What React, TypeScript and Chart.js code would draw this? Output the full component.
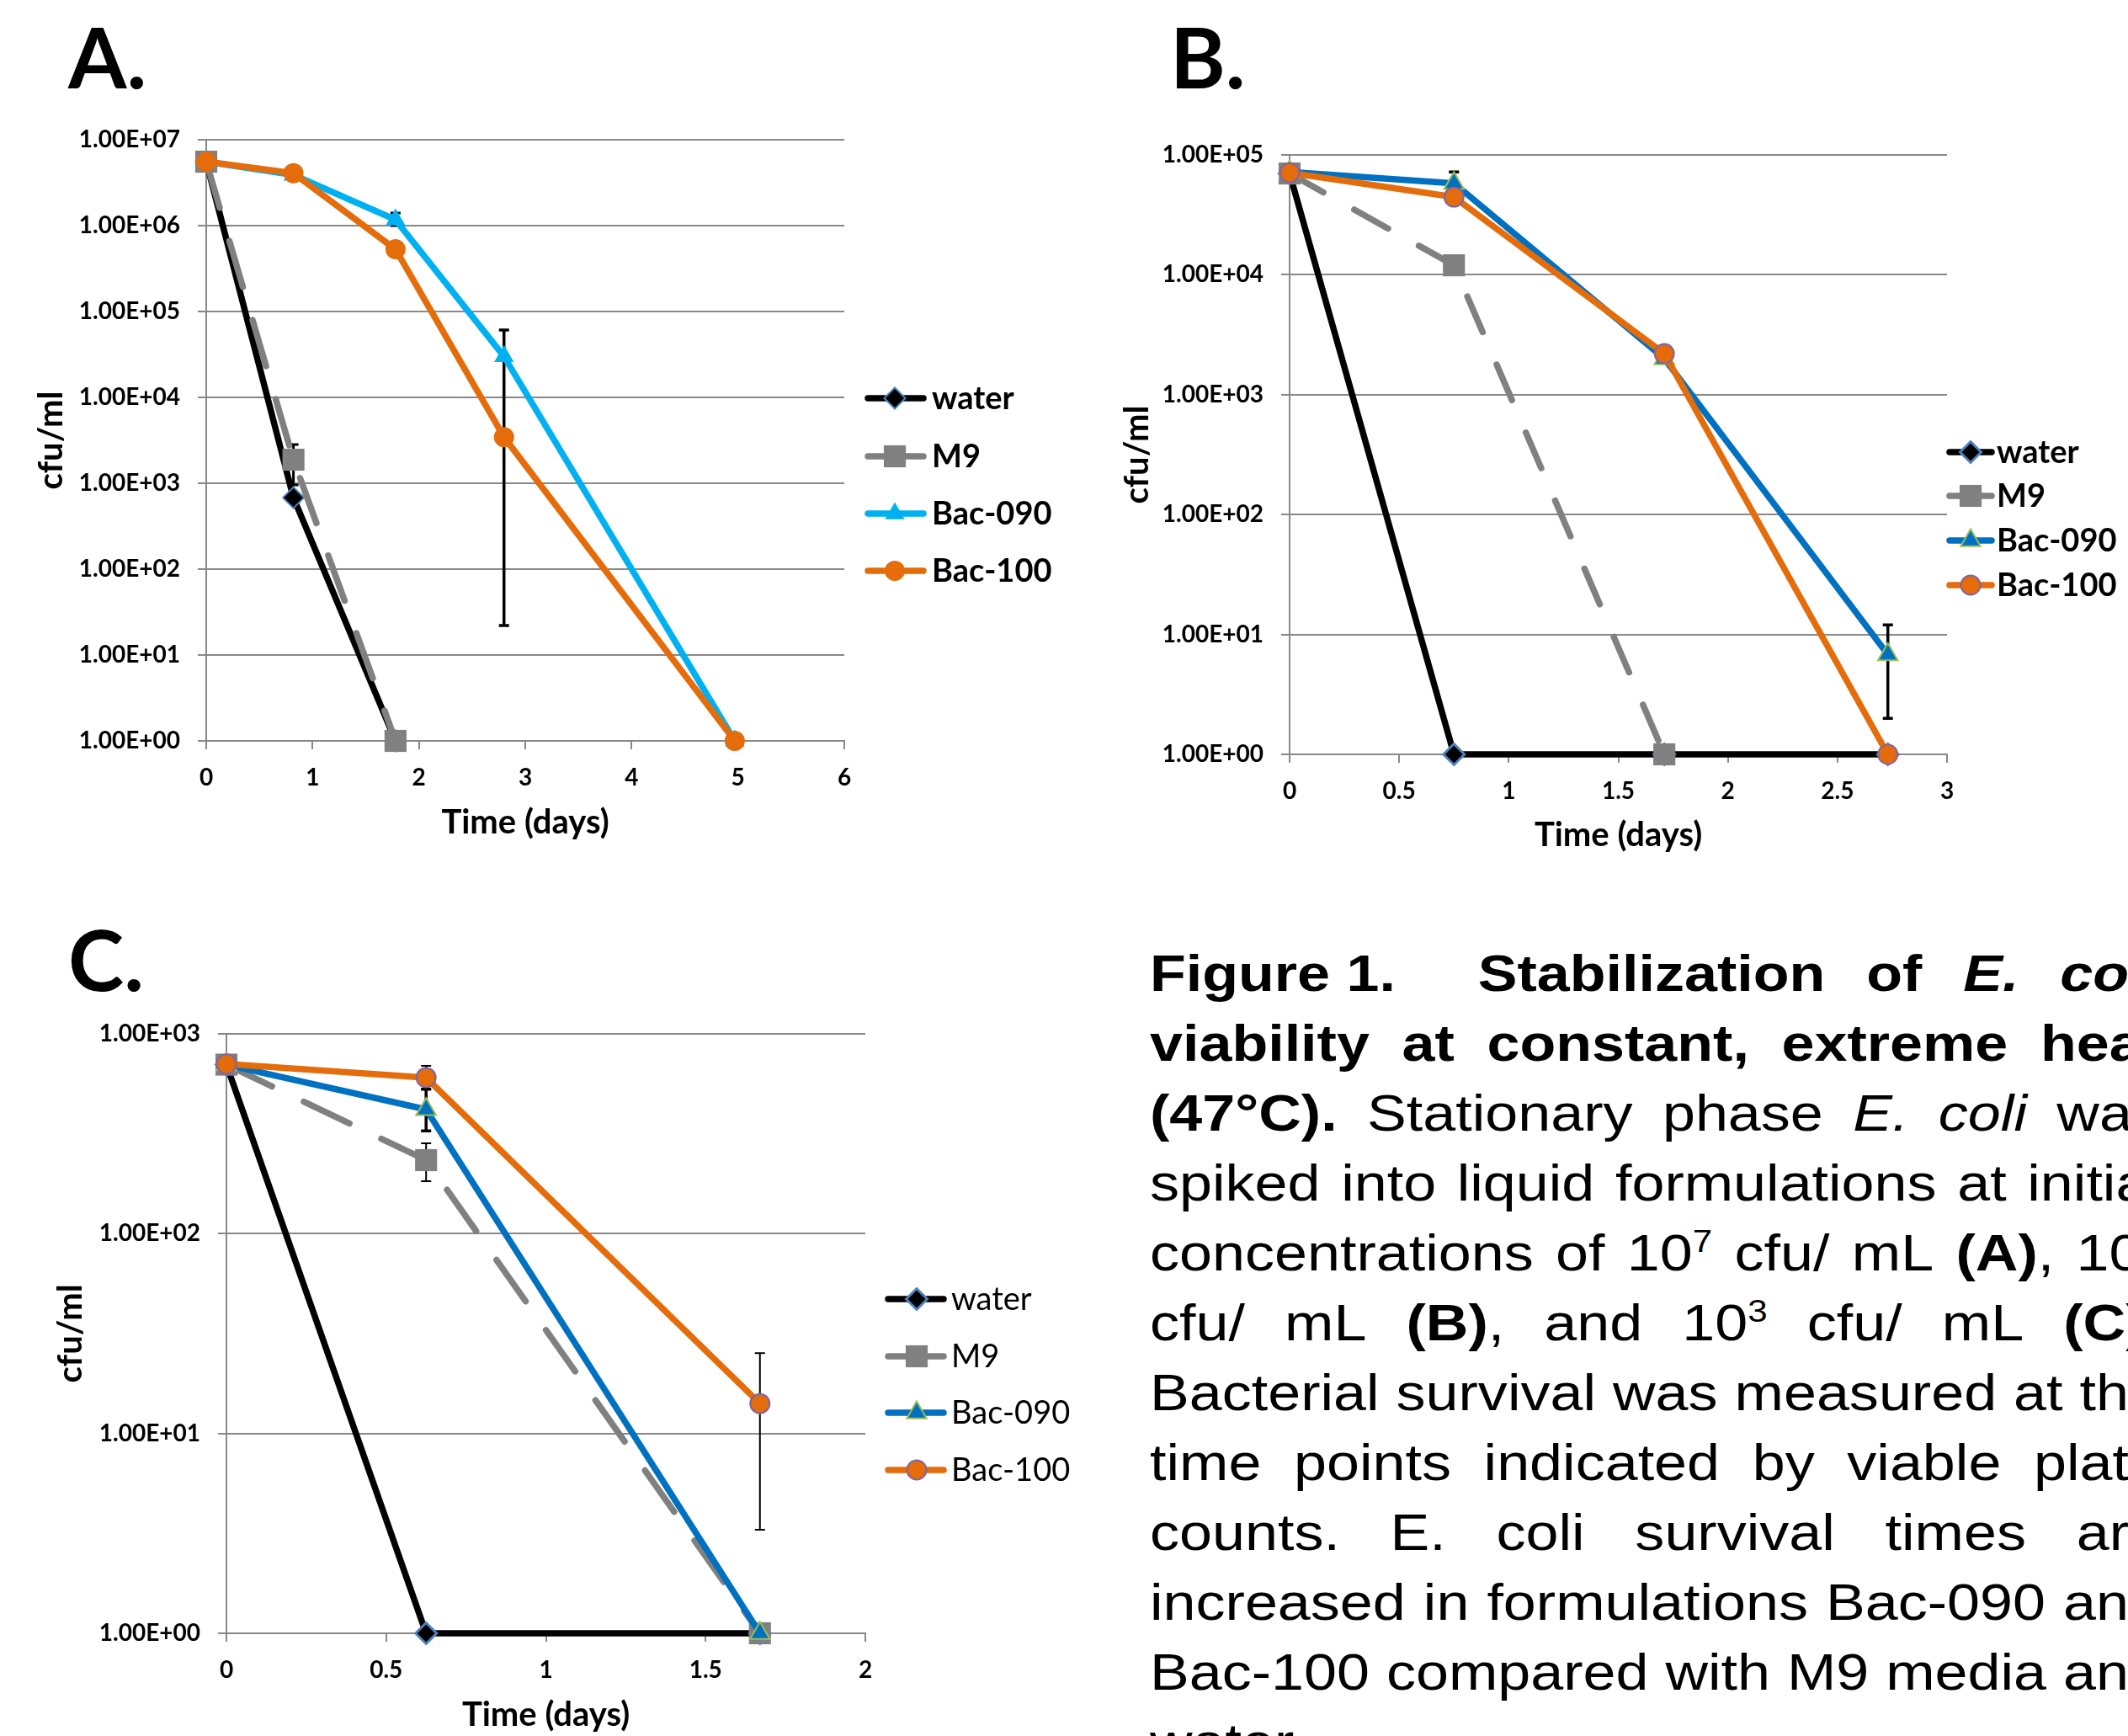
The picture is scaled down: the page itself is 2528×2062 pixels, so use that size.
import React, { useEffect, useRef } from 'react';
import { Chart, registerables } from 'chart.js';

Chart.register(...registerables);

// ---------------- data ----------------
const SERIES_NAMES = ['water', 'M9', 'Bac-090', 'Bac-100'];

// Panel A (10^7 cfu/mL)
const A_X_TICKS = ['0', '1', '2', '3', '4', '5', '6'];
const A_Y_TICKS = ['1.00E+00', '1.00E+01', '1.00E+02', '1.00E+03', '1.00E+04', '1.00E+05', '1.00E+06', '1.00E+07'];
const A_WATER_X = [0, 0.82, 1.78];
const A_WATER_Y = [5.56e6, 680, 1];
const A_M9_X = [0, 0.82, 1.78];
const A_M9_Y = [5.56e6, 1880, 1];
const A_B090_X = [0, 0.82, 1.78, 2.8, 4.97];
const A_B090_Y = [5.56e6, 3.9e6, 1.17e6, 3.0e4, 1];
const A_B100_X = [0, 0.82, 1.78, 2.8, 4.97];
const A_B100_Y = [5.56e6, 4.07e6, 5.3e5, 3.45e3, 1];
const A_ERR_X = [0.82, 1.78, 2.8];
const A_ERR_LOW = [955, 1.0e6, 22];
const A_ERR_HIGH = [2820, 1.4e6, 6.1e4];

// Panel B (10^5 cfu/mL)
const B_X_TICKS = ['0', '0.5', '1', '1.5', '2', '2.5', '3'];
const B_Y_TICKS = ['1.00E+00', '1.00E+01', '1.00E+02', '1.00E+03', '1.00E+04', '1.00E+05'];
const B_WATER_X = [0, 0.75, 1.71, 2.73];
const B_WATER_Y = [7.0e4, 1, 1, 1];
const B_M9_X = [0, 0.75, 1.71];
const B_M9_Y = [7.0e4, 1.2e4, 1];
const B_B090_X = [0, 0.75, 1.71, 2.73];
const B_B090_Y = [7.2e4, 5.8e4, 2.0e3, 6.8];
const B_B100_X = [0, 0.75, 1.71, 2.73];
const B_B100_Y = [7.1e4, 4.45e4, 2.2e3, 1];
const B_ERR_X = [0.75, 2.73];
const B_ERR_LOW = [5.0e4, 2.0];
const B_ERR_HIGH = [7.2e4, 12];

// Panel C (10^3 cfu/mL)
const C_X_TICKS = ['0', '0.5', '1', '1.5', '2'];
const C_Y_TICKS = ['1.00E+00', '1.00E+01', '1.00E+02', '1.00E+03'];
const C_WATER_X = [0, 0.625, 1.67];
const C_WATER_Y = [700, 1, 1];
const C_M9_X = [0, 0.625, 1.67];
const C_M9_Y = [700, 233, 1];
const C_B090_X = [0, 0.625, 1.67];
const C_B090_Y = [700, 418, 1];
const C_B100_X = [0, 0.625, 1.67];
const C_B100_Y = [705, 603, 14.1];
const C_ERR_X = [0.625, 0.625, 0.625, 1.67];
const C_ERR_LOW = [183, 326, 527, 3.3];
const C_ERR_HIGH = [283, 527, 690, 25.2];

// ---------------- styles ----------------
const GRID = '#888888';
const BLACK = '#000000';
const GRAY = '#808080';
const ORANGE = '#E46C0A';
const LIGHTBLUE = '#00B0F0';
const BLUE = '#0070C0';
const DIAMOND_EDGE = '#4F81BD';
const GREEN_EDGE = '#9BBB59';
const PURPLE_EDGE = '#8064A2';

type Style = {
  color: string; width: number; dash?: number[];
  point: string; radius: number; fill: string; border: string; borderWidth: number;
};

type Panel = {
  left: number; top: number; width: number; height: number;
  area: { left: number; top: number; right: number; bottom: number };
  xTicks: string[]; yTicks: string[];
  xs: number[][]; ys: number[][];
  styles: Style[];
  err: { xs: number[]; low: number[]; high: number[]; widths: number[] };
  yTitlePad: number; xTitlePad: number;
  legend: { x0: number; x1: number; mx: number; tx: number; rows: number[]; weight: string };
};

const LW = 7.5;

const STYLES_A: Style[] = [
  { color: BLACK, width: LW, point: 'rectRot', radius: 12.5, fill: BLACK, border: DIAMOND_EDGE, borderWidth: 2 },
  { color: GRAY, width: LW, dash: [57, 41], point: 'rect', radius: 18.5, fill: GRAY, border: GRAY, borderWidth: 0 },
  { color: LIGHTBLUE, width: LW, point: 'triangle', radius: 13.5, fill: LIGHTBLUE, border: LIGHTBLUE, borderWidth: 0 },
  { color: ORANGE, width: LW, point: 'circle', radius: 12, fill: ORANGE, border: ORANGE, borderWidth: 0 },
];
const STYLES_BC = (dash: number[]): Style[] => [
  { color: BLACK, width: LW, point: 'rectRot', radius: 12.5, fill: BLACK, border: DIAMOND_EDGE, borderWidth: 3 },
  { color: GRAY, width: LW, dash, point: 'rect', radius: 18.5, fill: GRAY, border: GRAY, borderWidth: 0 },
  { color: BLUE, width: LW, point: 'triangle', radius: 13.5, fill: BLUE, border: GREEN_EDGE, borderWidth: 2 },
  { color: ORANGE, width: LW, point: 'circle', radius: 11.5, fill: ORANGE, border: PURPLE_EDGE, borderWidth: 2 },
];

const PANEL_A: Panel = {
  left: 0, top: 110, width: 1290, height: 940,
  area: { left: 245, top: 166, right: 1003, bottom: 880 },
  xTicks: A_X_TICKS, yTicks: A_Y_TICKS,
  xs: [A_WATER_X, A_M9_X, A_B090_X, A_B100_X],
  ys: [A_WATER_Y, A_M9_Y, A_B090_Y, A_B100_Y],
  styles: STYLES_A,
  err: { xs: A_ERR_X, low: A_ERR_LOW, high: A_ERR_HIGH, widths: [3, 3, 3.5] },
  yTitlePad: 37, xTitlePad: 49,
  legend: { x0: 1031, x1: 1097, mx: 1063, tx: 1107, rows: [473, 542, 610, 678], weight: 'bold' },
};

const PANEL_B: Panel = {
  left: 1300, top: 110, width: 1228, height: 940,
  area: { left: 1532, top: 184, right: 2313, bottom: 896 },
  xTicks: B_X_TICKS, yTicks: B_Y_TICKS,
  xs: [B_WATER_X, B_M9_X, B_B090_X, B_B100_X],
  ys: [B_WATER_Y, B_M9_Y, B_B090_Y, B_B100_Y],
  styles: STYLES_BC([46, 42]),
  err: { xs: B_ERR_X, low: B_ERR_LOW, high: B_ERR_HIGH, widths: [3.5, 3.5] },
  yTitlePad: 27, xTitlePad: 34,
  legend: { x0: 2316, x1: 2366, mx: 2341, tx: 2372, rows: [537, 589, 642, 695], weight: 'bold' },
};

const PANEL_C: Panel = {
  left: 0, top: 1190, width: 1300, height: 872,
  area: { left: 269, top: 1227, right: 1028, bottom: 1940 },
  xTicks: C_X_TICKS, yTicks: C_Y_TICKS,
  xs: [C_WATER_X, C_M9_X, C_B090_X, C_B100_X],
  ys: [C_WATER_Y, C_M9_Y, C_B090_Y, C_B100_Y],
  styles: STYLES_BC([60, 42]),
  err: { xs: C_ERR_X, low: C_ERR_LOW, high: C_ERR_HIGH, widths: [2, 3.5, 2, 2] },
  yTitlePad: 60, xTitlePad: 1,
  legend: { x0: 1055, x1: 1121, mx: 1089, tx: 1130, rows: [1543, 1611, 1678, 1746], weight: 'normal' },
};

function drawMarker(ctx: CanvasRenderingContext2D, st: Style, x: number, y: number) {
  const r = st.radius;
  ctx.beginPath();
  if (st.point === 'circle') {
    ctx.arc(x, y, r, 0, Math.PI * 2);
  } else if (st.point === 'rect') {
    const h = r * Math.SQRT1_2;
    ctx.rect(x - h, y - h, 2 * h, 2 * h);
  } else if (st.point === 'rectRot') {
    ctx.moveTo(x - r, y); ctx.lineTo(x, y - r); ctx.lineTo(x + r, y); ctx.lineTo(x, y + r); ctx.closePath();
  } else {
    let a = 0;
    ctx.moveTo(x + Math.sin(a) * r, y - Math.cos(a) * r);
    a += (2 * Math.PI) / 3;
    ctx.lineTo(x + Math.sin(a) * r, y - Math.cos(a) * r);
    a += (2 * Math.PI) / 3;
    ctx.lineTo(x + Math.sin(a) * r, y - Math.cos(a) * r);
    ctx.closePath();
  }
  ctx.fillStyle = st.fill;
  ctx.fill();
  if (st.borderWidth > 0) {
    ctx.lineWidth = st.borderWidth;
    ctx.strokeStyle = st.border;
    ctx.stroke();
  }
}

function buildConfig(p: Panel): any {
  const padTop = p.area.top - p.top;
  const padRight = p.left + p.width - p.area.right;
  const padBottom = 0;
  const yWidth = p.area.left - p.left;
  const xHeight = p.top + p.height - padBottom - p.area.bottom;
  const xVals = p.xTicks.map(Number);
  const yVals = p.yTicks.map((t) => parseFloat(t));
  const tickFont = { family: 'Lato', weight: 'bold' as const, size: 28, lineHeight: 1.2 };
  const titleFont = { family: 'Lato', weight: 'bold' as const, size: 40, lineHeight: 1.2 };

  const errPlugin = {
    id: 'errBars',
    beforeDatasetsDraw(chart: any) {
      const xs = chart.scales.x, ys = chart.scales.y, ctx = chart.ctx as CanvasRenderingContext2D;
      p.err.xs.forEach((xv, i) => {
        const px = xs.getPixelForValue(xv);
        const y1 = ys.getPixelForValue(p.err.low[i]);
        const y2 = ys.getPixelForValue(p.err.high[i]);
        const cap = 6;
        ctx.save();
        ctx.strokeStyle = '#000';
        ctx.lineWidth = p.err.widths[i];
        ctx.lineCap = 'butt';
        ctx.beginPath();
        ctx.moveTo(px, y1); ctx.lineTo(px, y2);
        ctx.moveTo(px - cap, y1); ctx.lineTo(px + cap, y1);
        ctx.moveTo(px - cap, y2); ctx.lineTo(px + cap, y2);
        ctx.stroke();
        ctx.restore();
      });
    },
  };

  const legendPlugin = {
    id: 'xlLegend',
    afterDraw(chart: any) {
      const ctx = chart.ctx as CanvasRenderingContext2D;
      SERIES_NAMES.forEach((name, i) => {
        const st = p.styles[i];
        const y = p.legend.rows[i] - p.top;
        ctx.save();
        ctx.strokeStyle = st.color;
        ctx.lineWidth = st.width;
        ctx.lineCap = 'round';
        ctx.setLineDash([]);
        ctx.beginPath();
        ctx.moveTo(p.legend.x0 - p.left, y);
        ctx.lineTo(p.legend.x1 - p.left, y);
        ctx.stroke();
        drawMarker(ctx, st, p.legend.mx - p.left, y);
        ctx.fillStyle = '#000';
        ctx.font = `${p.legend.weight} 38px Lato`;
        ctx.textBaseline = 'middle';
        ctx.textAlign = 'left';
        ctx.fillText(name, p.legend.tx - p.left, y + 1);
        ctx.restore();
      });
    },
  };

  return {
    type: 'line',
    data: {
      datasets: SERIES_NAMES.map((name, i) => {
        const st = p.styles[i];
        return {
          label: name,
          data: p.xs[i].map((x, j) => ({ x, y: p.ys[i][j] })),
          borderColor: st.color,
          backgroundColor: st.color,
          borderWidth: st.width,
          borderDash: st.dash || [],
          borderCapStyle: 'round',
          borderJoinStyle: 'round',
          pointStyle: st.point,
          pointRadius: st.radius,
          pointHoverRadius: st.radius,
          pointBackgroundColor: st.fill,
          pointBorderColor: st.border,
          pointBorderWidth: st.borderWidth,
          tension: 0,
          fill: false,
          clip: false,
          order: SERIES_NAMES.length - i,
        };
      }),
    },
    options: {
      animation: false,
      responsive: false,
      maintainAspectRatio: false,
      devicePixelRatio: 1,
      events: [],
      layout: { padding: { left: 0, top: padTop, right: padRight, bottom: padBottom } },
      plugins: { legend: { display: false }, tooltip: { enabled: false }, title: { display: false } },
      scales: {
        x: {
          type: 'linear',
          min: xVals[0],
          max: xVals[xVals.length - 1],
          afterBuildTicks: (s: any) => { s.ticks = xVals.map((v) => ({ value: v })); },
          afterFit: (s: any) => { s.height = xHeight; },
          ticks: {
            callback: (_v: any, i: number) => p.xTicks[i],
            font: tickFont, color: '#000', padding: 17, maxRotation: 0, autoSkip: false,
          },
          grid: { drawOnChartArea: false, drawTicks: true, tickLength: 10, color: GRID, lineWidth: 2 },
          border: { display: true, color: GRID, width: 2 },
          title: { display: true, text: 'Time (days)', font: titleFont, color: '#000', padding: { top: 0, bottom: p.xTitlePad } },
        },
        y: {
          type: 'logarithmic',
          min: yVals[0],
          max: yVals[yVals.length - 1],
          afterBuildTicks: (s: any) => { s.ticks = yVals.map((v) => ({ value: v })); },
          afterFit: (s: any) => { s.width = yWidth; },
          ticks: {
            callback: (_v: any, i: number) => p.yTicks[i],
            font: tickFont, color: '#000', padding: 21, autoSkip: false,
          },
          grid: { drawOnChartArea: true, drawTicks: true, tickLength: 10, color: GRID, lineWidth: 2 },
          border: { display: true, color: GRID, width: 2 },
          title: { display: true, text: 'cfu/ml', font: titleFont, color: '#000', padding: { top: p.yTitlePad, bottom: 0 } },
        },
      },
    },
    plugins: [errPlugin, legendPlugin],
  };
}

function ChartPanel({ p }: { p: Panel }) {
  const ref = useRef<HTMLCanvasElement>(null);
  useEffect(() => {
    const chart = new Chart(ref.current as HTMLCanvasElement, buildConfig(p));
    return () => chart.destroy();
  }, [p]);
  return (
    <canvas
      ref={ref}
      width={p.width}
      height={p.height}
      style={{ position: 'absolute', left: p.left, top: p.top, width: p.width, height: p.height }}
    />
  );
}

// ---------------- caption ----------------
const CAP = { left: 1366, firstTop: 1114, pitch: 83, width: 1202, scale: 1.13, size: 62 };

function Line({ i, children, justify = true, bold = false }: { i: number; children: React.ReactNode; justify?: boolean; bold?: boolean }) {
  return (
    <div
      style={{
        position: 'absolute',
        left: CAP.left,
        top: CAP.firstTop + i * CAP.pitch,
        width: CAP.width / CAP.scale,
        height: CAP.pitch,
        lineHeight: CAP.pitch + 'px',
        display: 'flex',
        justifyContent: justify ? 'space-between' : 'flex-start',
        alignItems: 'baseline',
        whiteSpace: 'nowrap',
        transform: `scaleX(${CAP.scale})`,
        transformOrigin: '0 0',
        fontFamily: '"Liberation Sans", Arial, sans-serif',
        fontSize: CAP.size,
        fontWeight: bold ? 'bold' : 'normal',
        color: '#000',
      }}
    >
      {children}
    </div>
  );
}

const W = ({ children }: { children?: React.ReactNode }) => <span>{children}</span>;
const Sup = ({ children }: { children: React.ReactNode }) => (
  <sup style={{ fontSize: '0.6em', lineHeight: 0, verticalAlign: 'super' }}>{children}</sup>
);
const words = (s: string) => s.split(' ').map((w, k) => <W key={k}>{w}</W>);

function Caption() {
  return (
    <>
      <Line i={0} bold>
        <W>{'Figure\u00a01.'}</W><W></W><W>Stabilization</W><W>of</W><W><i>E.</i></W><W><i>coli</i></W>
      </Line>
      <Line i={1} bold>{words('viability at constant, extreme heat')}</Line>
      <Line i={2}>
        <W><b>(47°C).</b></W><W>Stationary</W><W>phase</W><W><i>E.</i></W><W><i>coli</i></W><W>was</W>
      </Line>
      <Line i={3}>{words('spiked into liquid formulations at initial')}</Line>
      <Line i={4}>
        <W>concentrations</W><W>of</W><W>10<Sup>7</Sup></W><W>cfu/</W><W>mL</W><W><b>(A)</b>,</W><W>10<Sup>5</Sup></W>
      </Line>
      <Line i={5}>
        <W>cfu/</W><W>mL</W><W><b>(B)</b>,</W><W>and</W><W>10<Sup>3</Sup></W><W>cfu/</W><W>mL</W><W><b>(C)</b>.</W>
      </Line>
      <Line i={6}>{words('Bacterial survival was measured at the')}</Line>
      <Line i={7}>{words('time points indicated by viable plate')}</Line>
      <Line i={8}>{words('counts. E. coli survival times are')}</Line>
      <Line i={9}>{words('increased in formulations Bac-090 and')}</Line>
      <Line i={10}>{words('Bac-100 compared with M9 media and')}</Line>
      <Line i={11} justify={false}><W>water.</W></Line>
    </>
  );
}

const PanelLetter = ({ text, left, baseline }: { text: string; left: number; baseline: number }) => (
  <div
    style={{
      position: 'absolute', left, top: baseline - 89,
      fontFamily: 'Lato', fontWeight: 'bold', fontSize: 100, lineHeight: '100px', color: '#000',
    }}
  >
    {text}
  </div>
);

export default function App() {
  return (
    <div
      style={{
        position: 'fixed', left: 0, top: 0, width: 2528, height: 2062,
        overflow: 'hidden', background: '#fff',
      }}
    >
      <PanelLetter text="A." left={81} baseline={105} />
      <PanelLetter text="B." left={1390} baseline={105} />
      <PanelLetter text="C." left={81} baseline={1177} />
      <ChartPanel p={PANEL_A} />
      <ChartPanel p={PANEL_B} />
      <ChartPanel p={PANEL_C} />
      <Caption />
    </div>
  );
}
